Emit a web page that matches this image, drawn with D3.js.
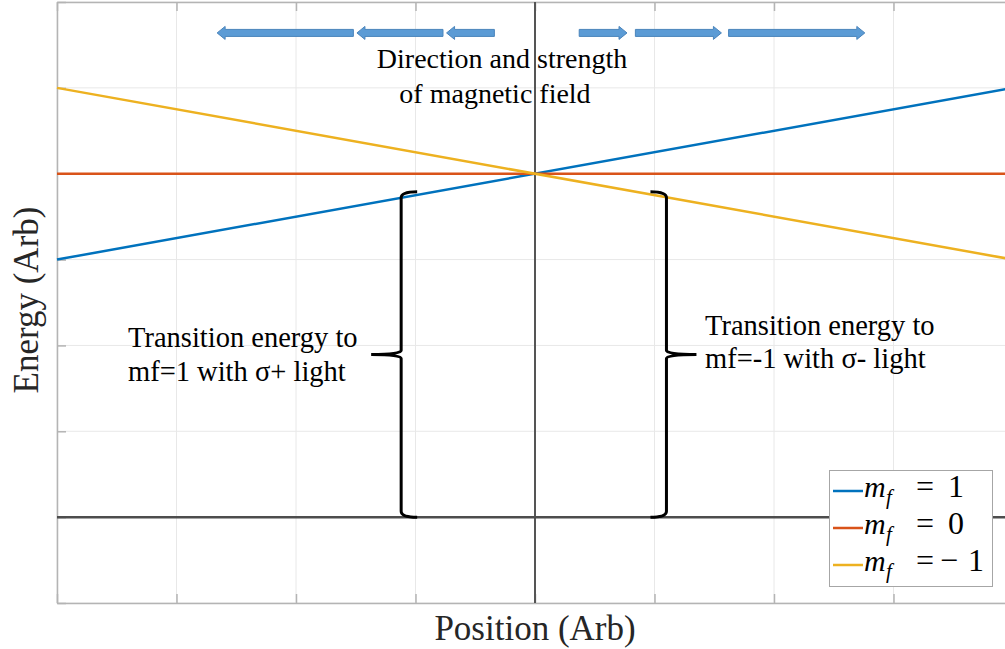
<!DOCTYPE html>
<html>
<head>
<meta charset="utf-8">
<script src="https://cdn.jsdelivr.net/npm/d3@7"></script>
<style>
  body { margin: 0; background: #fff; }
</style>
</head>
<body>
<div id="chart-area"></div>
<script>
// DATA
const positions = [-4, 4]
const seriesNames = ['1', '0', '\u22121']
const seriesEnergy = [
  [1, 3],   // m_f = 1
  [2, 2],   // m_f = 0
  [3, 1]    // m_f = -1
]
const seriesColors = ['#0072BD', '#D95319', '#EDB120']
const xTicks = [-4, -3, -2, -1, 0, 1, 2, 3, 4]
const yTicks = [-3, -2, -1, 0, 1, 2, 3, 4]
const groundLevel = -2

// field arrows: [from, to] in position units, at height arrowLevel
const arrowFrom = [-1.52, -0.77, -0.34, 0.37, 0.84, 1.62]
const arrowTo = [-2.66, -1.49, -0.74, 0.77, 1.56, 2.76]
const arrowLevel = 3.64

// braces: position, top energy, side it opens to
const braceX = [-1.12, 1.1]
const braceTop = [1.79, 1.79]
const braceSide = [1, -1]

const WIDTH = 1005
const HEIGHT = 649
const PLOT = { LEFT: 57, RIGHT: 1013, TOP: 2, BOTTOM: 603 }
const SERIF = 'Liberation Serif, Times New Roman, serif'

const svg = d3.select('#chart-area').append('svg')
  .attr('width', WIDTH)
  .attr('height', HEIGHT)
  .style('display', 'block')

const x = d3.scaleLinear().domain([-4, 4]).range([PLOT.LEFT, PLOT.RIGHT])
const y = d3.scaleLinear().domain([-3, 4]).range([PLOT.BOTTOM, PLOT.TOP])

// GRID
const grid = svg.append('g')
grid.selectAll('.vg').data(xTicks).enter().append('line')
  .attr('x1', d => x(d)).attr('x2', d => x(d))
  .attr('y1', PLOT.TOP).attr('y2', PLOT.BOTTOM)
  .attr('stroke', '#e8e8e8').attr('stroke-width', 1)
grid.selectAll('.hg').data(yTicks).enter().append('line')
  .attr('y1', d => y(d)).attr('y2', d => y(d))
  .attr('x1', PLOT.LEFT).attr('x2', PLOT.RIGHT)
  .attr('stroke', '#e8e8e8').attr('stroke-width', 1)

// AXES (no labels, inward ticks)
const axisColor = '#b4b4b4'
svg.append('g').attr('transform', `translate(0, ${PLOT.BOTTOM})`)
  .call(d3.axisBottom(x).tickValues(xTicks).tickSizeInner(-9).tickSizeOuter(0).tickFormat(''))
svg.append('g').attr('transform', `translate(0, ${PLOT.TOP})`)
  .call(d3.axisTop(x).tickValues(xTicks).tickSizeInner(-9).tickSizeOuter(0).tickFormat(''))
svg.append('g').attr('transform', `translate(${PLOT.LEFT}, 0)`)
  .call(d3.axisLeft(y).tickValues(yTicks).tickSizeInner(-9).tickSizeOuter(0).tickFormat(''))
svg.selectAll('.domain, .tick line').attr('stroke', axisColor).attr('stroke-width', 1.5)

// ZERO POSITION + GROUND LEVEL
svg.append('line')
  .attr('x1', x(0)).attr('x2', x(0)).attr('y1', PLOT.TOP).attr('y2', PLOT.BOTTOM)
  .attr('stroke', '#555').attr('stroke-width', 2)
svg.append('line')
  .attr('x1', PLOT.LEFT).attr('x2', PLOT.RIGHT).attr('y1', y(groundLevel)).attr('y2', y(groundLevel))
  .attr('stroke', '#4d4d4d').attr('stroke-width', 2.5)

// ENERGY LINES
const line = d3.line().x((d, i) => x(positions[i])).y(d => y(d))
svg.selectAll('.series').data(seriesEnergy).enter().append('path')
  .attr('d', d => line(d))
  .attr('fill', 'none')
  .attr('stroke', (d, i) => seriesColors[i])
  .attr('stroke-width', 2.5)

// FIELD ARROWS
const ay = y(arrowLevel)
arrowFrom.forEach((f, i) => {
  const x0 = x(f), x1 = x(arrowTo[i])
  const dir = x1 > x0 ? 1 : -1
  const hx = x1 - dir * 8
  const p = d3.path()
  p.moveTo(x0, ay - 3.5)
  p.lineTo(hx, ay - 3.5)
  p.lineTo(hx, ay - 6.5)
  p.lineTo(x1, ay)
  p.lineTo(hx, ay + 6.5)
  p.lineTo(hx, ay + 3.5)
  p.lineTo(x0, ay + 3.5)
  p.closePath()
  svg.append('path').attr('d', p.toString())
    .attr('fill', '#5b9bd5').attr('stroke', '#4a84bb').attr('stroke-width', 1)
})

function label(xp, yp, size, str, anchor) {
  return svg.append('text')
    .attr('x', xp).attr('y', yp)
    .attr('font-family', SERIF)
    .attr('font-size', size + 'px')
    .attr('text-anchor', anchor || 'start')
    .text(str)
}

label(502, 68, 28, 'Direction and strength', 'middle')
label(495, 103, 28, 'of magnetic field', 'middle')

// BRACES
braceX.forEach((bx, i) => {
  const cx = x(bx), s = braceSide[i]
  const yt = y(braceTop[i]), yb = y(groundLevel)
  const ym = (yt + yb) / 2
  const p = d3.path()
  p.moveTo(cx + s * 16, yt)
  p.quadraticCurveTo(cx, yt, cx, yt + 6)
  p.lineTo(cx, ym - 4)
  p.quadraticCurveTo(cx, ym, cx - s * 30, ym)
  p.moveTo(cx - s * 30, ym)
  p.quadraticCurveTo(cx, ym, cx, ym + 4)
  p.lineTo(cx, yb - 6)
  p.quadraticCurveTo(cx, yb, cx + s * 16, yb)
  svg.append('path').attr('d', p.toString())
    .attr('fill', 'none').attr('stroke', '#000').attr('stroke-width', 3)
})

label(128, 347, 28.5, 'Transition energy to')
label(128, 381, 28.5, 'mf=1 with \u03c3+ light')
label(705, 335, 28.5, 'Transition energy to')
label(705, 368, 28.5, 'mf=-1 with \u03c3- light')

// AXIS LABELS
label(535, 640, 35, 'Position (Arb)', 'middle').attr('fill', '#262626')
label(0, 0, 35, 'Energy (Arb)', 'middle').attr('fill', '#262626')
  .attr('transform', 'translate(38, 300) rotate(-90)')

// LEGEND
const legend = svg.append('g')
legend.append('rect')
  .attr('x', 829.5).attr('y', 470.5).attr('width', 163).attr('height', 116)
  .attr('fill', '#fff').attr('stroke', '#a6a6a6').attr('stroke-width', 1)
seriesNames.forEach((name, i) => {
  const ly = 491 + i * 37
  legend.append('line')
    .attr('x1', 833).attr('x2', 863).attr('y1', ly).attr('y2', ly)
    .attr('stroke', seriesColors[i]).attr('stroke-width', 2.5)
  const t = legend.append('text').attr('y', ly + 6)
    .attr('font-family', SERIF).attr('font-size', '32px')
  t.append('tspan').attr('x', 864).attr('font-size', '30px').attr('font-style', 'italic').text('m')
  t.append('tspan').attr('x', 886).attr('dy', 7).attr('font-size', '21px').attr('font-style', 'italic').text('f')
  t.append('tspan').attr('x', 916).attr('dy', -7).text('=')
  if (name.startsWith('\u2212')) {
    t.append('tspan').attr('x', 940).text('\u2212')
    t.append('tspan').attr('x', 968).text(name.slice(1))
  } else {
    t.append('tspan').attr('x', 948).text(name)
  }
})
</script>
</body>
</html>
